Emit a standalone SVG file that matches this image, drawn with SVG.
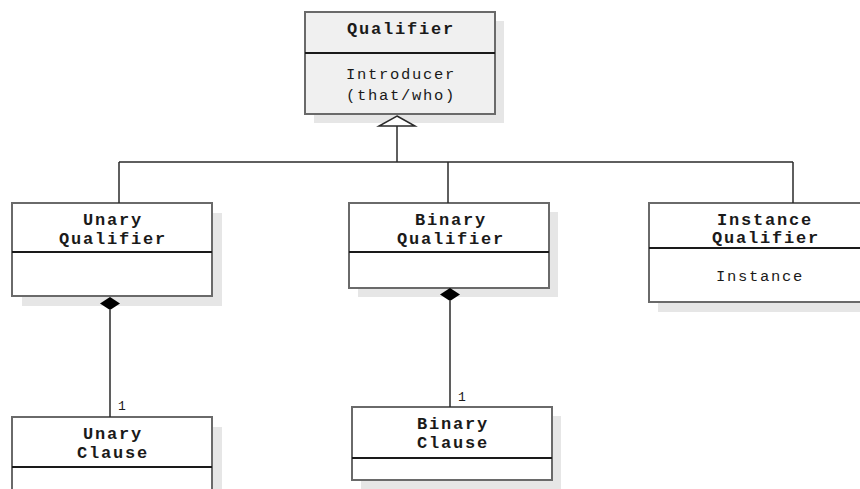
<svg xmlns="http://www.w3.org/2000/svg" width="860" height="489" viewBox="0 0 860 489">
<style>
.shadow{fill:#e6e6e6}
.box{fill:#ffffff;stroke:#6a6a6a;stroke-width:2}
.boxg{fill:#f0f0f0;stroke:#6a6a6a;stroke-width:2}
.div{stroke:#1a1a1a;stroke-width:2}
.t{font-family:"Liberation Mono","Courier New",monospace;font-weight:bold;font-size:17px;letter-spacing:1.8px;fill:#1a1a1a;text-anchor:middle}
.a{font-family:"Liberation Mono","Courier New",monospace;font-size:15.5px;letter-spacing:1.7px;fill:#1a1a1a;text-anchor:middle}
.c{stroke:#2a2a2a;stroke-width:1.5;fill:none}
.m{font-family:"Liberation Mono","Courier New",monospace;font-size:13px;fill:#1a1a1a}
</style>
<g id="Qualifier">
<rect class="shadow" x="314" y="21" width="190" height="102"/>
<rect class="boxg" x="305" y="12" width="190" height="102"/>
<line class="div" x1="305" y1="53" x2="495" y2="53"/>
<text class="t" x="401" y="34">Qualifier</text>
<text class="a" x="401" y="79">Introducer</text>
<text class="a" x="401" y="100">(that/who)</text>
</g>
<g id="UnaryQualifier">
<rect class="shadow" x="22" y="213" width="200" height="93"/>
<rect class="box" x="12" y="203" width="200" height="93"/>
<line class="div" x1="12" y1="252" x2="212" y2="252"/>
<text class="t" x="113" y="225">Unary</text>
<text class="t" x="113" y="244">Qualifier</text>
</g>
<g id="BinaryQualifier">
<rect class="shadow" x="358" y="212" width="200" height="85"/>
<rect class="box" x="349" y="203" width="200" height="85"/>
<line class="div" x1="349" y1="252" x2="549" y2="252"/>
<text class="t" x="451" y="225">Binary</text>
<text class="t" x="451" y="244">Qualifier</text>
</g>
<g id="InstanceQualifier">
<rect class="shadow" x="658" y="213" width="220" height="99"/>
<rect class="box" x="649" y="203" width="220" height="99"/>
<line class="div" x1="649" y1="248" x2="869" y2="248"/>
<text class="t" x="765" y="225">Instance</text>
<text class="t" x="766" y="243">Qualifier</text>
<text class="a" x="760" y="281">Instance</text>
</g>
<g id="UnaryClause">
<rect class="shadow" x="22" y="427" width="200" height="80"/>
<rect class="box" x="12" y="417" width="200" height="80"/>
<line class="div" x1="12" y1="467" x2="212" y2="467"/>
<text class="t" x="113" y="439">Unary</text>
<text class="t" x="113" y="458">Clause</text>
</g>
<g id="BinaryClause">
<rect class="shadow" x="361" y="416" width="200" height="73"/>
<rect class="box" x="352" y="407" width="200" height="73"/>
<line class="div" x1="352" y1="458" x2="552" y2="458"/>
<text class="t" x="453" y="429">Binary</text>
<text class="t" x="453" y="448">Clause</text>
</g>
<g id="connectors">
<polygon points="397,116 415,126 379,126" fill="#ffffff" stroke="#2a2a2a" stroke-width="1.5"/>
<line class="c" x1="397" y1="126" x2="397" y2="162"/>
<line class="c" x1="119" y1="162" x2="793" y2="162"/>
<line class="c" x1="119" y1="162" x2="119" y2="203"/>
<line class="c" x1="448" y1="162" x2="448" y2="203"/>
<line class="c" x1="793" y1="162" x2="793" y2="203"/>
<polygon points="110,297 120,303.5 110,310 100,303.5" fill="#000"/>
<line class="c" x1="110" y1="310" x2="110" y2="417"/>
<text class="m" x="118" y="410">1</text>
<polygon points="450,288 460,294.5 450,301 440,294.5" fill="#000"/>
<line class="c" x1="450" y1="301" x2="450" y2="407"/>
<text class="m" x="458" y="401">1</text>
</g>
</svg>
